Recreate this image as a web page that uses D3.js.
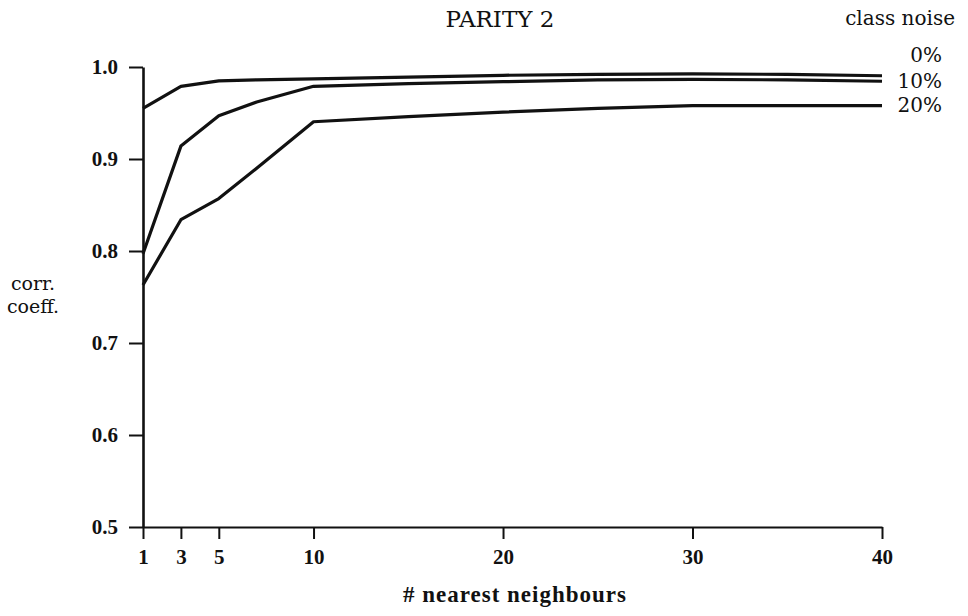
<!DOCTYPE html>
<html>
<head>
<meta charset="utf-8">
<script src="https://d3js.org/d3.v7.min.js"></script>
<title>PARITY 2</title>
<style>
  body { margin: 0; background: #fff; }
  svg { display: block; }
</style>
</head>
<body>
<div id="chart"></div>
<script>
// number of nearest neighbours
var neighbours = [1, 3, 5, 7, 10, 15, 20, 25, 30, 35, 40];
// correlation coefficient per class noise level
var noise0  = [0.955, 0.979, 0.985, 0.986, 0.987, 0.989, 0.991, 0.992, 0.9925, 0.992, 0.9905];
var noise10 = [0.797, 0.914, 0.947, 0.962, 0.979, 0.982, 0.984, 0.986, 0.9865, 0.986, 0.9845];
var noise20 = [0.763, 0.834, 0.857, 0.890, 0.9405, 0.946, 0.951, 0.955, 0.958, 0.958, 0.958];
var seriesNames = ["0%", "10%", "20%"];
var xTicks = [1, 3, 5, 10, 20, 30, 40];
var yTicks = [0.5, 0.6, 0.7, 0.8, 0.9, 1.0];

var width = 968, height = 616;
var serifBold = "'Liberation Serif', 'DejaVu Serif', serif";
var serif = "'DejaVu Serif', serif";

var svg = d3.select("#chart")
  .append("svg")
    .attr("width", width)
    .attr("height", height);

var x = d3.scaleLinear().domain([1, 40]).range([143, 882]);
var y = d3.scaleLinear().domain([0.5, 1.0]).range([527, 67]);

// axes
var yAxis = svg.append("g")
  .attr("transform", "translate(" + x(1) + ",0)")
  .call(d3.axisLeft(y).tickValues(yTicks).tickFormat(d3.format(".1f"))
    .tickSize(14).tickSizeOuter(0).tickPadding(11));

var xAxis = svg.append("g")
  .attr("transform", "translate(0," + y(0.5) + ")")
  .call(d3.axisBottom(x).tickValues(xTicks).tickFormat(d3.format("d"))
    .tickSize(12).tickSizeOuter(0));

yAxis.select(".domain").attr("stroke", "#111").attr("stroke-width", 2.6);
xAxis.select(".domain").attr("stroke", "#111").attr("stroke-width", 2);
svg.selectAll(".tick line").attr("stroke", "#111").attr("stroke-width", 2);
svg.selectAll(".tick text")
  .style("font-family", serifBold)
  .style("font-weight", "bold")
  .style("font-size", "21px")
  .attr("fill", "#111");
xAxis.selectAll(".tick text").attr("dy", null).attr("y", 37);

// lines
var line = d3.line()
  .x(function(d) { return x(d[0]); })
  .y(function(d) { return y(d[1]); });

var allSeries = [noise0, noise10, noise20];
svg.selectAll("path.curve")
  .data(allSeries)
  .enter()
  .append("path")
    .attr("class", "curve")
    .attr("d", function(vals) { return line(vals.map(function(v, i) { return [neighbours[i], v]; })); })
    .attr("fill", "none")
    .attr("stroke", "#111")
    .attr("stroke-width", 3.2)
    .attr("stroke-linejoin", "round");

function label(xp, yp, txt, size, anchor, font, bold) {
  return svg.append("text")
    .attr("x", xp).attr("y", yp)
    .attr("text-anchor", anchor)
    .attr("fill", "#111")
    .style("font-family", font)
    .style("font-size", size + "px")
    .style("font-weight", bold ? "bold" : "normal")
    .text(txt);
}

// series labels at right end
var labelY = [62, 88, 112];
seriesNames.forEach(function(d, i) { label(942, labelY[i], d, 20, "end", serif, false); });

label(955, 25, "class noise", 20, "end", serif, false);
label(500, 27, "PARITY 2", 23, "middle", serif, false);
label(33, 290, "corr.", 19, "middle", serif, false);
label(33, 313, "coeff.", 19, "middle", serif, false);
label(515, 602, "# nearest neighbours", 23, "middle", serifBold, true).style("letter-spacing", "1px");
</script>
</body>
</html>
